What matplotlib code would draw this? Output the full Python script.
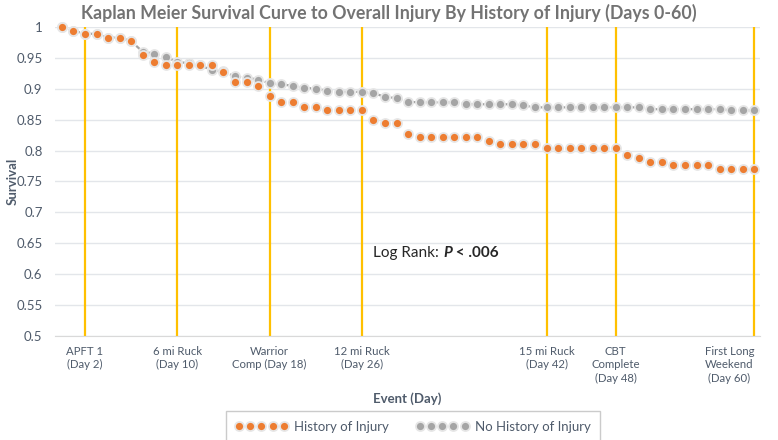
import matplotlib
matplotlib.use("Agg")
import matplotlib.pyplot as plt
from matplotlib.lines import Line2D

# Kaplan Meier 曲线 (Days 0-60)
days = list(range(61))
hist_injury = [
    1.000, 0.994, 0.989, 0.989, 0.983, 0.983, 0.977, 0.955, 0.944, 0.939,
    0.939, 0.939, 0.939, 0.939, 0.927, 0.911, 0.911, 0.905, 0.888, 0.878,
    0.878, 0.871, 0.871, 0.866, 0.866, 0.866, 0.866, 0.849, 0.844, 0.844,
    0.827, 0.822, 0.822, 0.822, 0.822, 0.822, 0.822, 0.816, 0.810, 0.810,
    0.810, 0.810, 0.804, 0.804, 0.804, 0.804, 0.804, 0.804, 0.804, 0.793,
    0.788, 0.782, 0.782, 0.777, 0.777, 0.777, 0.777, 0.771, 0.771, 0.771, 0.771,
]
no_hist_injury = [
    1.000, 0.994, 0.989, 0.989, 0.983, 0.983, 0.977, 0.960, 0.957, 0.951,
    0.944, 0.941, 0.938, 0.930, 0.928, 0.920, 0.918, 0.915, 0.909, 0.907,
    0.905, 0.902, 0.900, 0.897, 0.895, 0.895, 0.895, 0.893, 0.887, 0.885,
    0.879, 0.878, 0.878, 0.878, 0.878, 0.875, 0.875, 0.875, 0.875, 0.875,
    0.873, 0.870, 0.870, 0.870, 0.870, 0.870, 0.870, 0.870, 0.870, 0.870,
    0.870, 0.867, 0.867, 0.867, 0.867, 0.867, 0.867, 0.867, 0.865, 0.865, 0.865,
]
event_days = [2, 10, 18, 26, 42, 48, 60]
event_labels = ["APFT 1\n(Day 2)", "6 mi Ruck\n(Day 10)", "Warrior\nComp (Day 18)",
                "12 mi Ruck\n(Day 26)", "15 mi Ruck\n(Day 42)", "CBT\nComplete\n(Day 48)",
                "First Long\nWeekend\n(Day 60)"]
y_ticks = [0.5, 0.55, 0.6, 0.65, 0.7, 0.75, 0.8, 0.85, 0.9, 0.95, 1.0]
y_tick_labels = ["0.5", "0.55", "0.6", "0.65", "0.7", "0.75", "0.8", "0.85", "0.9", "0.95", "1"]

plt.rcParams['font.family'] = ['Lato', 'DejaVu Sans']
txt_col = '#4f5b6b'
orange = '#ed7d31'
grey = '#a5a5a5'

fig = plt.figure(figsize=(7.78, 4.40), dpi=100)
ax = fig.add_axes([55 / 778, 1 - 336 / 440, (760 - 55) / 778, (336 - 27) / 440])

ax.set_ylim(0.5, 1.0)
ax.set_xlim(-0.6, 60.5)
ax.set_yticks(y_ticks)
ax.set_yticklabels(y_tick_labels)
ax.yaxis.grid(True, color='#e3e6ea', lw=1)
ax.set_axisbelow(True)
for s in ['top', 'right', 'left']:
    ax.spines[s].set_visible(False)
ax.spines['bottom'].set_color('#d9d9d9')
ax.tick_params(axis='y', length=0, pad=9, labelsize=9.5, labelcolor=txt_col)

for d in event_days:
    ax.axvline(d, color='#ffc000', lw=1.6, zorder=2)

ax.set_xticks(event_days)
ax.set_xticklabels(event_labels, fontsize=8.2, color=txt_col, linespacing=1.3)
ax.tick_params(axis='x', length=0, pad=7)
# 最后一个标签稍微左移, 免得被裁掉
last = ax.get_xticklabels()[-1]
last.set_horizontalalignment('right')
last.set_x(61.2)
last.set_multialignment('center')

# 灰线
ax.plot(days, no_hist_injury, color=grey, lw=1.6, linestyle=(0, (2, 1.2)),
        marker='o', markersize=6.5, markerfacecolor=grey, markeredgecolor='#e6e6e6',
        markeredgewidth=1.3, zorder=3, clip_on=False)
ax.plot(days, hist_injury, linestyle='none',
        marker='o', markersize=6.5, markerfacecolor=orange, markeredgecolor='#e6e6e6',
        markeredgewidth=1.3, zorder=4, clip_on=False)

fig.text(389 / 778, 1 - 13 / 440, "Kaplan Meier Survival Curve to Overall Injury By History of Injury (Days 0-60)",
         ha='center', va='center', fontsize=12.8, color='#737373', fontweight='bold')
ax.set_ylabel("Survival", fontsize=9.5, fontweight='bold', color=txt_col)
ax.yaxis.set_label_coords(-36 / 705, 0.5)
ax.set_xlabel("Event (Day)", fontsize=9.5, fontweight='bold', color=txt_col, labelpad=6)

t1 = ax.text(27.0, 0.628, "Log Rank: ", fontsize=11, color='#262626', va='baseline')
t2 = ax.annotate("P", xy=(1, 0), xycoords=t1, va='bottom', fontsize=11,
                 color='#262626', fontweight='bold', fontstyle='italic')
ax.annotate(" < .006", xy=(1, 0), xycoords=t2, va='bottom', fontsize=11,
            color='#262626', fontweight='bold')

h1 = Line2D([], [], linestyle='none', marker='o', markersize=6.5, markerfacecolor=orange,
            markeredgecolor='#e6e6e6', markeredgewidth=1.3)
h2 = Line2D([], [], linestyle='none', marker='o', markersize=6.5, markerfacecolor=grey,
            markeredgecolor='#e6e6e6', markeredgewidth=1.3)
leg = fig.legend([h1, h2], ["History of Injury", "No History of Injury"], ncol=2,
                 loc='lower center', bbox_to_anchor=(413 / 778, -0.004), numpoints=5,
                 handlelength=4.0, fontsize=9.5, frameon=True, fancybox=False,
                 edgecolor='#bfbfbf', borderpad=0.7, borderaxespad=0.0,
                 columnspacing=2.0, handletextpad=0.5)
leg.get_frame().set_linewidth(1)
for t in leg.get_texts():
    t.set_color(txt_col)

fig.savefig("out.png", dpi=100)
